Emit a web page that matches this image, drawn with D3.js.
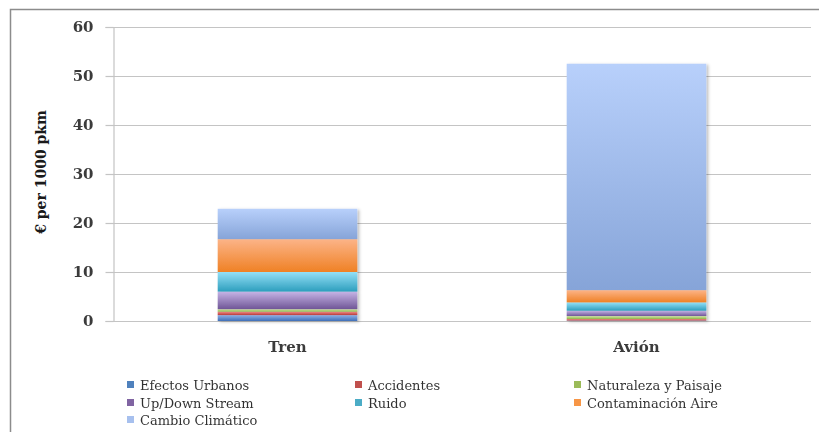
<!DOCTYPE html>
<html>
<head>
<meta charset="utf-8">
<script src="https://cdn.jsdelivr.net/npm/d3@7"></script>
<style>
  html, body { margin: 0; padding: 0; background: #fff; }
  svg { display: block; }
  text { font-family: "DejaVu Serif", "Liberation Serif", serif; fill: #1a1a1a; }
</style>
</head>
<body>
<svg id="chart" width="819" height="432"></svg>
<script>
// Categories (modes of transport)
const categories = ["Tren", "Avión"];

// External cost components, € per 1000 pkm, bottom to top
const seriesNames = [
  "Efectos Urbanos", "Accidentes", "Naturaleza y Paisaje",
  "Up/Down Stream", "Ruido", "Contaminación Aire", "Cambio Climático"
];
const efectosUrbanos   = [1.2, 0.1];
const accidentes       = [0.7, 0.3];
const naturaleza       = [0.5, 0.6];
const upDownStream     = [3.6, 1.1];
const ruido            = [4.0, 1.7];
const contaminacion    = [6.7, 2.5];
const cambioClimatico  = [6.2, 46.2];

const yTicks = [0, 10, 20, 30, 40, 50, 60];

// Colours: [top light, bottom dark, legend swatch]
const palette = [
  ["#8fb0e6", "#3f6fb8", "#4f81bd"],
  ["#f08a87", "#b83c38", "#c0504d"],
  ["#d3eca0", "#8fb24a", "#9bbb59"],
  ["#c6b4e6", "#6f5596", "#8064a2"],
  ["#94e0f7", "#2d9ebd", "#4bacc6"],
  ["#fcb488", "#ef8125", "#f79646"],
  ["#b8d0fb", "#86a4d8", "#a7c0ee"]
];

const values = [efectosUrbanos, accidentes, naturaleza, upDownStream, ruido, contaminacion, cambioClimatico];
const rows = categories.map((c, i) => {
  const r = { cat: c };
  seriesNames.forEach((s, k) => r[s] = values[k][i]);
  return r;
});

const svg = d3.select("#chart");
const defs = svg.append("defs");
palette.forEach((p, k) => {
  const g = defs.append("linearGradient")
    .attr("id", "grad" + k).attr("x1", 0).attr("y1", 0).attr("x2", 0).attr("y2", 1);
  g.append("stop").attr("offset", "0%").attr("stop-color", p[0]);
  g.append("stop").attr("offset", "100%").attr("stop-color", p[1]);
});
const shadow = defs.append("filter").attr("id", "shadow")
  .attr("x", "-10%").attr("y", "-10%").attr("width", "130%").attr("height", "120%");
shadow.append("feDropShadow").attr("dx", 2).attr("dy", 1).attr("stdDeviation", 1.5)
  .attr("flood-color", "#000").attr("flood-opacity", 0.25);

// Outer chart border
svg.append("rect").attr("x", 10.5).attr("y", 9.5).attr("width", 830).attr("height", 440)
  .attr("fill", "none").attr("stroke", "#8c8c8c").attr("stroke-width", 1.5);

const plot = { left: 113, right: 811, top: 27, bottom: 321 };

const y = d3.scaleLinear().domain([0, 60]).range([plot.bottom, plot.top]);
const x = d3.scaleBand().domain(categories).range([plot.left, plot.right]).padding(0);
const barW = x.bandwidth() * 0.4;

// Gridlines
svg.append("g").selectAll("line").data(yTicks).join("line")
  .attr("x1", plot.left).attr("x2", plot.right)
  .attr("y1", d => Math.round(y(d)) + 0.5).attr("y2", d => Math.round(y(d)) + 0.5)
  .attr("stroke", "#c4c4c4").attr("stroke-width", 1.2);

// Y axis
const yAxis = svg.append("g").attr("transform", `translate(${plot.left + 0.5},0)`)
  .call(d3.axisLeft(y).tickValues(yTicks).tickSize(8).tickPadding(12));
yAxis.select(".domain").attr("stroke", "#c4c4c4").attr("stroke-width", 1.2);
yAxis.selectAll(".tick line").attr("stroke", "#c4c4c4").attr("stroke-width", 1.2);
yAxis.selectAll(".tick text").attr("font-size", 15).attr("font-family", "DejaVu Serif")
  .attr("fill", "#1a1a1a").attr("font-weight", "bold").style("opacity", 0.85);

// Stacked bars
const stack = d3.stack().keys(seriesNames)(rows);
const barsG = svg.append("g").attr("filter", "url(#shadow)");
stack.forEach((layer, k) => {
  barsG.append("g").selectAll("rect").data(layer).join("rect")
    .attr("x", d => x(d.data.cat) + (x.bandwidth() - barW) / 2)
    .attr("width", barW)
    .attr("y", d => y(d[1]))
    .attr("height", d => y(d[0]) - y(d[1]))
    .attr("fill", `url(#grad${k})`);
});

// Category labels
svg.append("g").selectAll("text").data(categories).join("text")
  .attr("x", d => x(d) + x.bandwidth() / 2)
  .attr("y", 352)
  .attr("text-anchor", "middle")
  .attr("font-size", 15).attr("font-weight", "bold").style("opacity", 0.85)
  .text(d => d);

// Y axis title
svg.append("text")
  .attr("transform", "translate(46,172) rotate(-90)")
  .attr("text-anchor", "middle")
  .attr("font-size", 14).attr("font-weight", "bold")
  .text("€ per 1000 pkm");

// Legend
const legendCols = [127, 355, 574];
const legendRows = [385, 403, 420];
const legend = svg.append("g").selectAll("g").data(seriesNames).join("g")
  .attr("transform", (d, i) => `translate(${legendCols[i % 3]},${legendRows[Math.floor(i / 3)]})`);
legend.append("rect").attr("x", 0).attr("y", -4).attr("width", 7).attr("height", 7)
  .attr("fill", (d, i) => palette[i][2]);
legend.append("text").attr("x", 13).attr("y", 0).attr("dy", "0.35em")
  .attr("font-size", 13).style("opacity", 0.9)
  .text(d => d);
</script>
</body>
</html>
